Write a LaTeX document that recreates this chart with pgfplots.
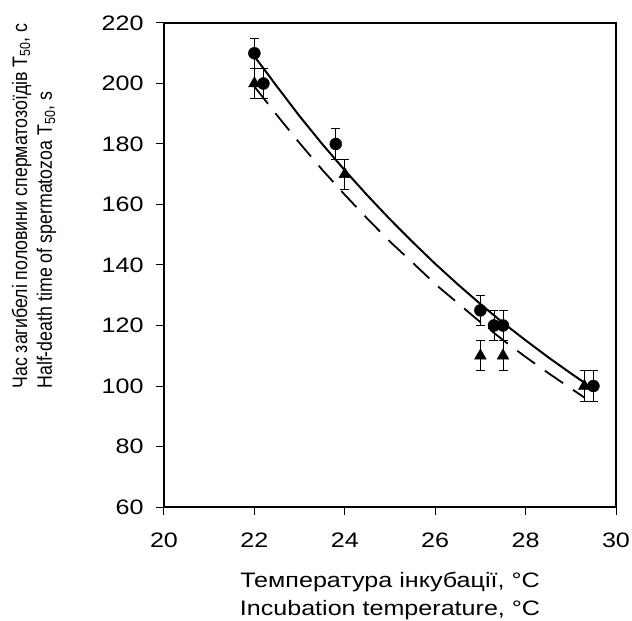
\documentclass[border=0pt]{standalone}
\usepackage{fontspec}
\setmainfont{Liberation Sans}
\newfontfamily\widesans{Liberation Sans}[FakeStretch=1.2]
\newfontfamily\narrowsans{Liberation Sans}[FakeStretch=0.85]
\usepackage{pgfplots}
\pgfplotsset{compat=1.18}

\begin{document}
\begin{tikzpicture}
\useasboundingbox (-164bp,-114bp) rectangle (468bp,507bp);
\begin{axis}[
  at={(0,0)}, anchor=south west,
  scale only axis, width=452bp, height=484bp,
  xmin=20, xmax=30, ymin=60, ymax=220,
  xtick={20,22,...,30}, ytick={60,80,...,220},
  tick pos=left, tick align=outside, major tick length=8bp,
  axis line style={line width=1.2bp},
  tick style={line width=1bp, black},
  ticklabel style={font=\widesans\fontsize{21}{25}\selectfont},
  xticklabel style={yshift=-14bp},
  yticklabel style={xshift=-9bp},
  /pgf/number format/assume math mode=true,
  xlabel={Температура інкубації, °C\\Incubation temperature, °C},
  xlabel style={font=\widesans\fontsize{21}{28}\selectfont, align=center,
    at={(axis description cs:0.5,-0.127)}, anchor=north},
  ylabel={Час загибелі половини сперматозоїдів T\textsubscript{50}, с\\Half-death time of spermatozoa T\textsubscript{50}, s},
  ylabel style={font=\narrowsans\fontsize{21}{25}\selectfont, align=left,
    at={(axis description cs:-0.2876,0.622)}, anchor=center},
]

% fitted curves
\addplot[black, line width=1.8bp, dash pattern=on 22bp off 12bp] table {
x y
22 199
22.5 189.5
23 180.3
23.5 171.5
24 163.2
24.5 155.3
25 147.7
25.5 140.8
26 133.7
26.5 127.4
27 121.1
27.5 115.2
28 109.6
28.5 104.3
29 99.2
29.3 96.2
};
\addplot[black, line width=2bp] table {
x y
22 209
22.5 199
23 189.2
23.5 180
24 171.3
24.5 163
25 155.1
25.5 147.6
26 140.4
26.5 133.6
27 127.1
27.5 120.9
28 115.1
28.5 109.5
29 104.2
29.3 101.1
};

% measured points with error bars
\addplot[only marks, black, mark=triangle*, mark size=6.8bp,
  error bars/.cd, y dir=both, y explicit,
  error bar style={line width=0.9bp, black},
  error mark options={rotate=90, mark size=4.5bp, line width=0.9bp, black}]
  table[x=x, y=y, y error=e] {
x y e
22 200 5
24 170 5
27 110 5
27.3 120 5
27.5 110 5
29.3 100 5
};
\addplot[only marks, black, mark=*, mark size=6bp,
  error bars/.cd, y dir=both, y explicit,
  error bar style={line width=0.9bp, black},
  error mark options={rotate=90, mark size=4.5bp, line width=0.9bp, black}]
  table[x=x, y=y, y error=e] {
x y e
22 210 5
22.2 200 5
23.8 180 5
27 125 5
27.3 120 5
27.5 120 5
29.5 100 5
};
\end{axis}
\end{tikzpicture}
\end{document}
